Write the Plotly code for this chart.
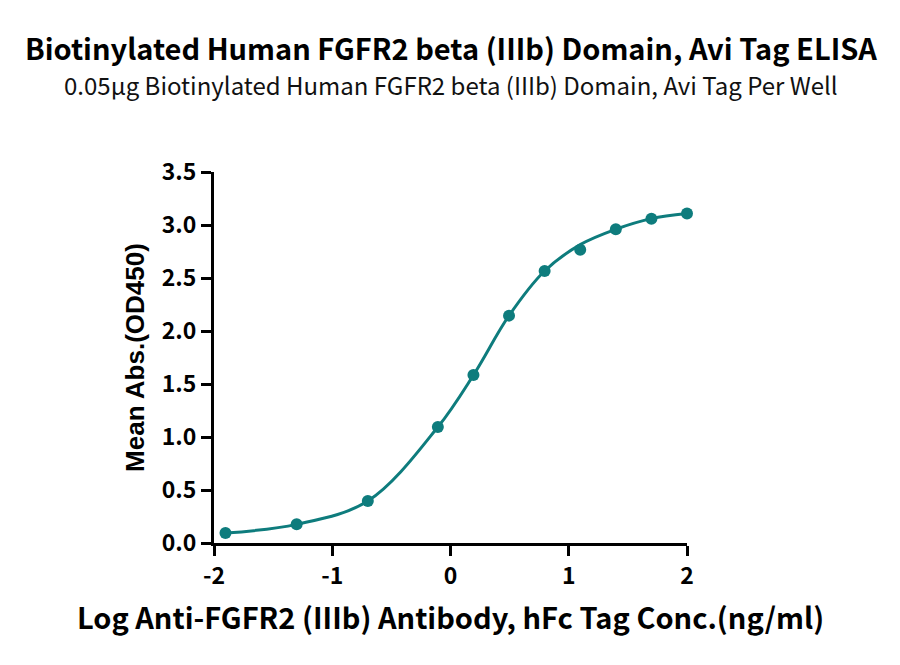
import plotly.graph_objects as go

# log10 concentration (ng/ml) and mean OD450
log_conc = [-1.903, -1.301, -0.699, -0.107, 0.194, 0.495, 0.796, 1.097, 1.398, 1.699, 2.0]
mean_od = [0.094, 0.176, 0.396, 1.094, 1.584, 2.145, 2.566, 2.767, 2.960, 3.060, 3.108]
# fitted curve at the same x positions
fit_od = [0.094, 0.176, 0.396, 1.094, 1.584, 2.145, 2.566, 2.815, 2.960, 3.060, 3.108]

x_ticks = [-2, -1, 0, 1, 2]
y_ticks = [0.0, 0.5, 1.0, 1.5, 2.0, 2.5, 3.0, 3.5]

teal = "#0e7c7d"
title_font = "Noto Sans CJK SC"
ytitle_font = "Liberation Sans"

top, bottom = 164, 130
plot_h = 665 - top - bottom

fig = go.Figure()
fig.add_trace(go.Scatter(x=log_conc, y=fit_od, mode="lines",
                         line=dict(color=teal, width=3, shape="spline", smoothing=1.0),
                         cliponaxis=False, showlegend=False, hoverinfo="skip"))
fig.add_trace(go.Scatter(x=log_conc, y=mean_od, mode="markers",
                         marker=dict(color=teal, size=12),
                         cliponaxis=False, showlegend=False))

fig.update_layout(
    width=900, height=665,
    paper_bgcolor="white", plot_bgcolor="white",
    margin=dict(l=206, r=221, t=top, b=bottom, autoexpand=False),
    annotations=[
        dict(text="<b>Biotinylated Human FGFR2 beta (IIIb) Domain, Avi Tag ELISA</b>",
             x=0.5, y=1 + (top - 39) / plot_h, xref="paper", yref="paper",
             xanchor="center", yanchor="middle", showarrow=False,
             font=dict(family=title_font, size=29, color="black")),
        dict(text="0.05μg Biotinylated Human FGFR2 beta (IIIb) Domain, Avi Tag Per Well",
             x=0.5, y=1 + (top - 76) / plot_h, xref="paper", yref="paper",
             xanchor="center", yanchor="middle", showarrow=False,
             font=dict(family=title_font, size=24, color="#111111")),
    ],
)

fig.update_xaxes(range=[-2, 2], tickvals=x_ticks, ticktext=[str(v) for v in x_ticks],
                 showgrid=False, zeroline=False, showline=True, linecolor="black", linewidth=3,
                 ticks="outside", ticklen=10, tickwidth=3, tickcolor="black",
                 tickfont=dict(family=title_font, size=23, color="black", weight="bold"),
                 title=dict(text="<b>Log Anti-FGFR2 (IIIb) Antibody, hFc Tag Conc.(ng/ml)</b>",
                            font=dict(family=title_font, size=29, color="black"), standoff=20))
fig.update_yaxes(range=[0, 3.5], tickvals=y_ticks, ticktext=["%.1f" % v for v in y_ticks],
                 showgrid=False, zeroline=False, showline=True, linecolor="black", linewidth=3,
                 ticks="outside", ticklen=10, tickwidth=3, tickcolor="black",
                 tickfont=dict(family=title_font, size=23, color="black", weight="bold"),
                 title=dict(text="<b>Mean Abs.(OD450)</b>",
                            font=dict(family=ytitle_font, size=26, color="black"), standoff=10))

fig.write_html("out.html")
